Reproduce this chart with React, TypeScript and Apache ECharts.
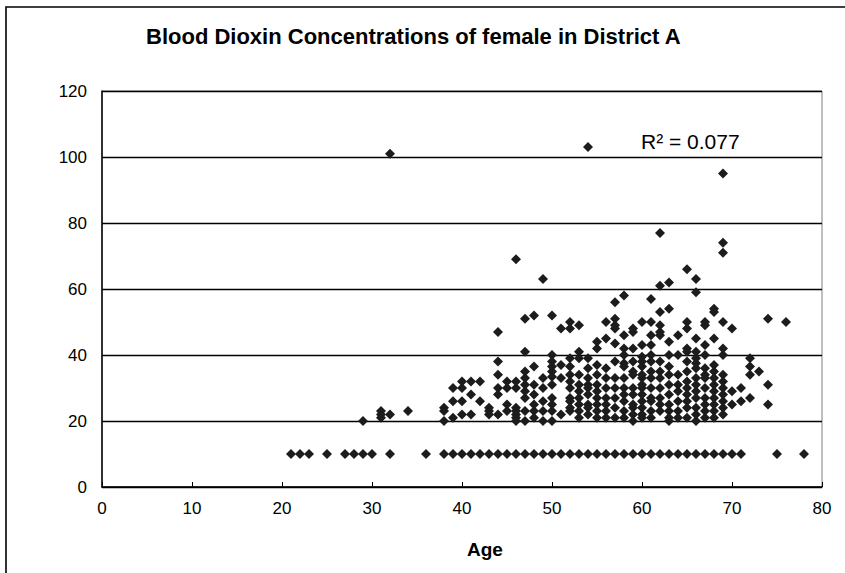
import React, { useEffect, useRef } from "react";
import * as echarts from "echarts";

const titleText = "Blood Dioxin Concentrations of female in District A";
const xAxisName = "Age";
const rSquaredText = "R\u00B2 = 0.077";

const xTicks = { min: 0, max: 80, interval: 10 };
const yTicks = { min: 0, max: 120, interval: 20 };

// Samples at the detection-limit value (10)
const lowAges = [
  21, 22, 23, 25, 27, 28, 29, 30, 32, 36, 38, 39, 40, 41, 42, 43, 44, 45, 46, 47,
  48, 49, 50, 51, 52, 53, 54, 55, 56, 57, 58, 59, 60, 61, 62, 63, 64, 65, 66, 67,
  68, 69, 70, 71, 75, 78,
];
const lowValue = 10;

// Other samples: age -> concentrations
const ageGroups: [number, number[]][] = [
  [29, [20]],
  [31, [23, 22, 21]],
  [32, [101, 22]],
  [34, [23]],
  [38, [24, 23, 20]],
  [39, [30, 26, 21]],
  [40, [32, 30, 26, 22]],
  [41, [32, 28, 22]],
  [42, [32, 26]],
  [43, [24, 23, 22]],
  [44, [47, 38, 34, 30, 28, 22]],
  [45, [32, 30, 25, 23]],
  [46, [69, 32, 30, 24, 23, 22, 21, 20]],
  [47, [51, 41, 35, 33, 31, 29, 27, 23, 20]],
  [48, [52, 36.5, 31, 28, 25, 23, 21]],
  [49, [63, 33, 30, 26, 23, 20]],
  [50, [52, 40, 38, 36.5, 35, 33.4, 31, 27, 25, 23, 20]],
  [51, [48, 37, 33, 22]],
  [52, [50, 48, 39, 36.5, 34, 32, 30, 27, 26, 24, 23]],
  [53, [49, 41, 39, 34, 31, 29, 27, 25, 23, 21]],
  [54, [103, 39, 36, 33, 31, 30, 28, 25, 24, 22]],
  [55, [44, 42, 37, 34, 31, 29, 27, 25, 23, 21]],
  [56, [50, 45, 36, 33, 30, 27, 25, 23, 21]],
  [57, [56, 51, 49, 48, 43.5, 38, 33, 30, 27, 24, 21]],
  [58, [58, 46, 42, 40, 37.5, 36.5, 33, 30, 28, 26, 23, 21]],
  [59, [48, 47, 42, 38, 35, 34, 30, 28, 25, 24, 22, 20]],
  [60, [50, 43, 39.5, 38, 36.5, 34, 33, 31, 30, 28, 26, 24, 22, 21]],
  [61, [57, 50, 46, 43, 40, 38, 35, 33, 30, 27, 26, 23, 21]],
  [62, [77, 61, 53, 49, 47, 46, 38, 35, 33, 30, 27, 25, 23]],
  [63, [62, 54, 44, 40, 36.5, 34, 31, 28, 25, 23, 21, 20]],
  [64, [46, 40, 34, 31, 29, 26, 23, 21]],
  [65, [66, 50, 48, 42, 41, 38, 35, 32, 30, 28, 26, 24, 21]],
  [66, [63, 59, 45, 41, 39, 37.5, 36, 33, 31, 29, 27, 24, 22, 20]],
  [67, [50, 49, 43, 40, 36, 34, 33, 30, 27, 25, 23, 21]],
  [68, [54, 53, 45, 37, 35, 33, 31, 29, 27, 25, 23, 21]],
  [69, [95, 74, 71, 50, 42, 40, 34, 32, 30, 28, 26, 24, 22]],
  [70, [48, 29, 25]],
  [71, [30, 26]],
  [72, [39, 36.5, 34, 27]],
  [73, [35]],
  [74, [51, 31, 25]],
  [76, [50]],
];

const FONT = "'Liberation Sans', Arial, Helvetica, sans-serif";

export default function App() {
  const ref = useRef<HTMLDivElement>(null);

  useEffect(() => {
    if (!ref.current) return;
    const chart = echarts.init(ref.current, null, { renderer: "svg" });

    const data: number[][] = [];
    lowAges.forEach((a) => data.push([a, lowValue]));
    ageGroups.forEach(([a, vals]) => vals.forEach((v) => data.push([a, v])));

    chart.setOption({
      animation: false,
      backgroundColor: "#ffffff",
      textStyle: { fontFamily: FONT },
      title: {
        text: titleText,
        left: 141,
        top: 20,
        textStyle: {
          fontFamily: FONT,
          fontSize: 22,
          fontWeight: "bold",
          color: "#000",
        },
      },
      grid: {
        left: 102,
        right: 23,
        top: 91,
        bottom: 86,
        show: true,
        borderColor: "#808080",
        borderWidth: 1,
        backgroundColor: "transparent",
      },
      xAxis: {
        type: "value",
        min: xTicks.min,
        max: xTicks.max,
        interval: xTicks.interval,
        axisLine: { show: true, onZero: false, lineStyle: { color: "#000", width: 1.5 } },
        axisTick: { show: true, inside: true, length: 5, lineStyle: { color: "#000" } },
        axisLabel: { color: "#000", fontSize: 17, margin: 13, fontFamily: FONT },
        splitLine: { show: false },
      },
      yAxis: {
        type: "value",
        min: yTicks.min,
        max: yTicks.max,
        interval: yTicks.interval,
        axisLine: { show: true, onZero: false, lineStyle: { color: "#000", width: 1.5 } },
        axisTick: { show: false },
        axisLabel: { color: "#000", fontSize: 17, margin: 15, fontFamily: FONT },
        splitLine: { show: true, lineStyle: { color: "#000", width: 1.3 } },
      },
      series: [
        {
          type: "scatter",
          symbol: "diamond",
          symbolSize: 10,
          itemStyle: { color: "#1c1c1c", opacity: 1 },
          data,
          z: 3,
        },
      ],
      graphic: [
        {
          type: "rect",
          shape: { x: 6, y: 7, width: 1000, height: 1000 },
          style: { fill: "none", stroke: "#000", lineWidth: 1.6 },
          silent: true,
          z: 10,
        },
        {
          type: "text",
          x: 485,
          y: 549,
          style: {
            text: xAxisName,
            fontFamily: FONT,
            fontSize: 19,
            fontWeight: "bold",
            fill: "#000",
            textAlign: "center",
            textVerticalAlign: "middle",
          },
        },
        {
          type: "text",
          x: 641,
          y: 141,
          style: {
            text: rSquaredText,
            fontFamily: FONT,
            fontSize: 21,
            fill: "#000",
            textAlign: "left",
            textVerticalAlign: "middle",
          },
        },
      ],
    });

    return () => chart.dispose();
  }, []);

  return (
    <div
      ref={ref}
      style={{ position: "fixed", left: 0, top: 0, width: 845, height: 573 }}
    />
  );
}
